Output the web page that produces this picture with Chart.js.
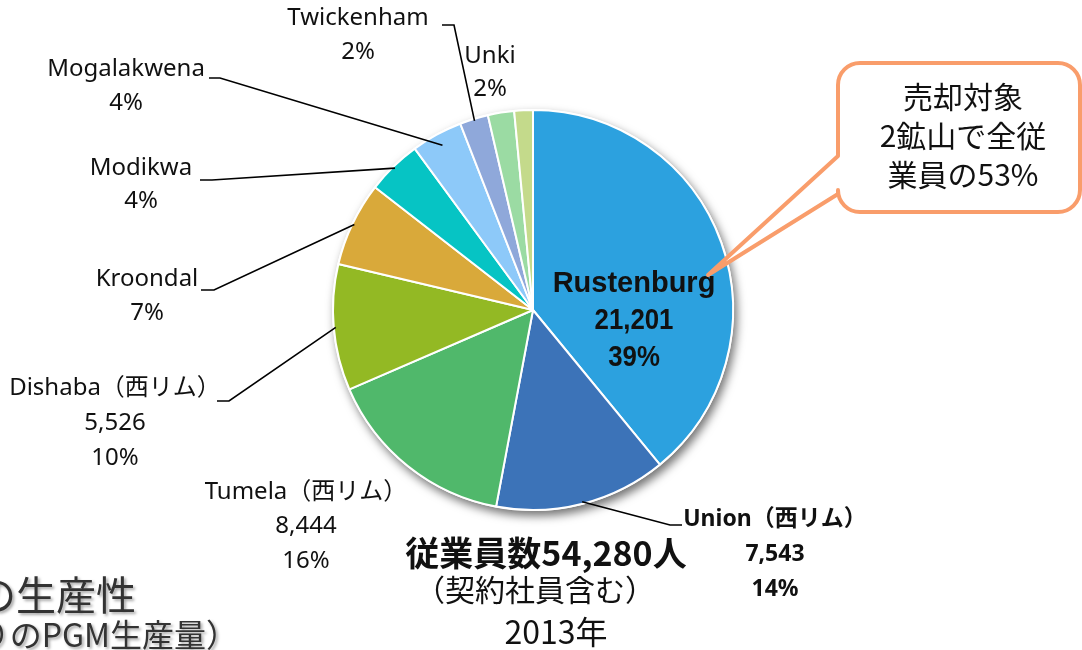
<!DOCTYPE html>
<html>
<head>
<meta charset="utf-8">
<script src="https://cdn.jsdelivr.net/npm/chart.js@4/dist/chart.umd.min.js"></script>
<style>
  html, body { margin: 0; padding: 0; background: #fff; }
  #mineChart { display: block; }
</style>
</head>
<body>
<canvas id="mineChart" width="1082" height="650"></canvas>
<script>
// 2013年 鉱山別の従業員数（契約社員含む）
const mines = ['Rustenburg', 'Union', 'Tumela', 'Dishaba', 'Kroondal', 'Modikwa', 'Mogalakwena', 'Twickenham', 'Unki', 'Other'];
const employees = [21201, 7543, 8444, 5526, 3700, 2400, 2250, 1250, 1150, 816];
const nameSuffix = ['', '（西リム）', '（西リム）', '（西リム）', '', '', '', '', '', ''];
const showCount = [true, true, true, true, false, false, false, false, false, false];
const calloutLines = ['売却対象', '2鉱山で全従', '業員の53%'];
const totalLines = ['（契約社員含む）', '2013年'];

const sliceColors = ['#2ca1df', '#3c73b8', '#50b86b', '#93b924', '#d9a93a', '#06c4c4', '#8dc9f9', '#8fa8da', '#9bdba3', '#c4da8b'];

const total = employees.reduce((a, b) => a + b, 0);
const fmt = n => n.toLocaleString('en-US');

// where each label sits (text centre, first line) and its leader line
const labelPos = [
    { x: 634, y: 284, gap: 37 },
    { x: 775, y: 519, gap: 35, elbow: [670, 525], tail: 682, bold: true },
    { x: 306, y: 492, gap: 34.5 },
    { x: 115, y: 388, gap: 35, elbow: [229, 401], tail: 217 },
    { x: 147, y: 279, gap: 34, elbow: [214, 290], tail: 201 },
    { x: 141, y: 168, gap: 33, elbow: [212, 180], tail: 200 },
    { x: 126, y: 69, gap: 34, elbow: [220, 78], tail: 209, inset: 12 },
    { x: 358, y: 18, gap: 34, elbow: [454, 25], tail: 442 },
    { x: 490, y: 56, gap: 33 },
    null
];

const LABEL_FONT = '"Noto Sans", "Noto Sans CJK JP", sans-serif';
const JP_FONT = '"Noto Sans CJK JP", sans-serif';

const pieShadow = {
    id: 'pieShadow',
    beforeDatasetsDraw(chart) {
        const arc = chart.getDatasetMeta(0).data[0];
        if (!arc) return;
        const ctx = chart.ctx;
        ctx.save();
        ctx.shadowColor = 'rgba(0,0,0,0.55)';
        ctx.shadowBlur = 10;
        ctx.shadowOffsetX = 3;
        ctx.shadowOffsetY = 5;
        ctx.fillStyle = '#fff';
        ctx.beginPath();
        ctx.arc(arc.x, arc.y, arc.outerRadius + 1, 0, Math.PI * 2);
        ctx.fill();
        ctx.restore();
    }
};

function drawLines(ctx, lines, x, y, gap) {
    lines.forEach((l, i) => {
        ctx.font = l.font;
        if (l.squeeze) {
            // narrow bold digits like the original
            ctx.save();
            ctx.translate(x, y + i * gap);
            ctx.scale(l.squeeze, 1);
            ctx.fillText(l.text, 0, 0);
            ctx.restore();
        } else {
            ctx.fillText(l.text, x, y + i * gap);
        }
    });
}

const sliceLabels = {
    id: 'sliceLabels',
    afterDatasetsDraw(chart) {
        const ctx = chart.ctx;
        const arcs = chart.getDatasetMeta(0).data;
        ctx.save();
        ctx.textAlign = 'center';
        ctx.textBaseline = 'middle';
        arcs.forEach((arc, i) => {
            const p = labelPos[i];
            if (!p) return;
            const pct = Math.round(employees[i] / total * 100) + '%';
            let lines;
            if (i === 0) {
                const nf = 'bold 30px "Liberation Sans", Arial, sans-serif';
                lines = [
                    { text: mines[i], font: 'bold 29px "Liberation Sans", Arial, sans-serif' },
                    { text: fmt(employees[i]), font: nf, squeeze: 0.86 },
                    { text: pct, font: nf, squeeze: 0.86 }
                ];
            } else {
                const f = (p.bold ? 'bold 23px ' : '24px ') + LABEL_FONT;
                lines = [{ text: mines[i] + nameSuffix[i], font: f }];
                if (showCount[i]) lines.push({ text: fmt(employees[i]), font: f });
                lines.push({ text: pct, font: f });
            }
            ctx.fillStyle = '#111';
            drawLines(ctx, lines, p.x, p.y, p.gap);

            if (p.elbow) {
                const mid = (arc.startAngle + arc.endAngle) / 2;
                const r = arc.outerRadius - (p.inset || 2);
                ctx.strokeStyle = '#000';
                ctx.lineWidth = 1.6;
                ctx.beginPath();
                ctx.moveTo(arc.x + Math.cos(mid) * r, arc.y + Math.sin(mid) * r);
                ctx.lineTo(p.elbow[0], p.elbow[1]);
                ctx.lineTo(p.tail, p.elbow[1]);
                ctx.stroke();
            }
        });
        ctx.restore();
    }
};

function drawCallout(ctx) {
    const x0 = 838, y0 = 63, x1 = 1080, y1 = 212, r = 22;
    const tip = [708, 275], baseTop = 156, baseBot = 194;
    ctx.save();
    ctx.beginPath();
    ctx.moveTo(x0 + r, y0);
    ctx.lineTo(x1 - r, y0);
    ctx.arcTo(x1, y0, x1, y0 + r, r);
    ctx.lineTo(x1, y1 - r);
    ctx.arcTo(x1, y1, x1 - r, y1, r);
    ctx.lineTo(x0 + r, y1);
    ctx.arcTo(x0, y1, x0, y1 - r, r);
    ctx.lineTo(x0, baseBot);
    ctx.lineTo(tip[0], tip[1]);
    ctx.lineTo(x0, baseTop);
    ctx.lineTo(x0, y0 + r);
    ctx.arcTo(x0, y0, x0 + r, y0, r);
    ctx.closePath();
    ctx.fillStyle = '#fff';
    ctx.fill();
    ctx.strokeStyle = '#f99d6b';
    ctx.lineWidth = 4;
    ctx.lineJoin = 'round';
    ctx.stroke();

    ctx.fillStyle = '#111';
    ctx.font = '30px ' + JP_FONT;
    ctx.textAlign = 'center';
    ctx.textBaseline = 'middle';
    calloutLines.forEach((t, i) => ctx.fillText(t, 963, 97 + i * 39));
    ctx.restore();
}

const extras = {
    id: 'extras',
    afterDraw(chart) {
        const ctx = chart.ctx;
        drawCallout(ctx);

        ctx.save();
        ctx.fillStyle = '#111';
        ctx.textAlign = 'center';
        ctx.textBaseline = 'middle';
        ctx.font = 'bold 34px ' + JP_FONT;
        ctx.fillText('従業員数' + fmt(total) + '人', 546, 553);
        ctx.font = '30px ' + JP_FONT;
        ctx.fillText(totalLines[0], 535, 590);
        ctx.font = '32px ' + JP_FONT;
        ctx.fillText(totalLines[1], 556, 632);

        // slide text cut off at the lower left
        ctx.shadowColor = 'rgba(0,0,0,0.35)';
        ctx.shadowBlur = 3;
        ctx.shadowOffsetX = 2;
        ctx.shadowOffsetY = 2;
        ctx.fillStyle = '#333';
        ctx.textAlign = 'right';
        ctx.textBaseline = 'alphabetic';
        ctx.font = '40px ' + JP_FONT;
        ctx.fillText('当たりの生産性', 136, 610);
        ctx.font = '32px ' + JP_FONT;
        ctx.textBaseline = 'top';
        ctx.fillText('（1人当たりのPGM生産量）', 238, 619);
        ctx.restore();
    }
};

new Chart(document.getElementById('mineChart'), {
    type: 'pie',
    data: {
        labels: mines,
        datasets: [{
            data: employees,
            backgroundColor: sliceColors,
            borderColor: '#fff',
            borderWidth: 2
        }]
    },
    options: {
        responsive: false,
        animation: false,
        layout: { padding: { left: 332, right: 348, top: 109, bottom: 139 } },
        plugins: {
            legend: { display: false },
            tooltip: { enabled: false }
        }
    },
    plugins: [pieShadow, sliceLabels, extras]
});
</script>
</body>
</html>
